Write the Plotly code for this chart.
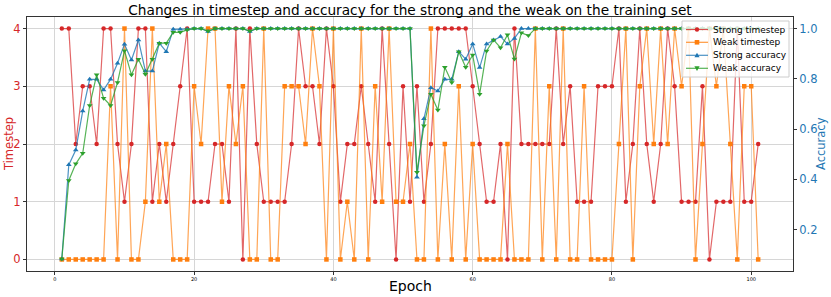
import plotly.graph_objects as go

epochs = list(range(1, 102))

strong_timestep = [4, 4, 2, 3, 3, 2, 4, 4, 2, 1,
                   2, 4, 4, 1, 2, 1, 2, 3, 4, 1,
                   1, 1, 2, 2, 1, 4, 0, 4, 2, 1,
                   1, 1, 1, 2, 4, 3, 3, 2, 4, 3,
                   1, 2, 2, 3, 2, 1, 4, 2, 0, 3,
                   1, 3, 1, 2, 4, 4, 4, 4, 4, 3,
                   2, 1, 1, 2, 0, 4, 2, 2, 2, 2,
                   2, 4, 2, 3, 1, 1, 1, 3, 3, 3,
                   4, 1, 2, 4, 2, 1, 2, 4, 3, 1,
                   1, 1, 3, 0, 1, 1, 1, 4, 1, 1,
                   2]

weak_timestep = [0, 0, 0, 0, 0, 0, 0, 3, 0, 4,
                 0, 0, 1, 4, 1, 2, 0, 0, 0, 3,
                 2, 4, 4, 1, 3, 2, 3, 0, 0, 4,
                 0, 0, 3, 3, 3, 2, 4, 3, 0, 4,
                 0, 1, 0, 4, 0, 3, 1, 4, 1, 1,
                 2, 0, 0, 4, 0, 2, 0, 3, 0, 2,
                 0, 0, 0, 0, 2, 0, 0, 0, 4, 0,
                 3, 0, 4, 0, 0, 3, 0, 0, 0, 0,
                 2, 4, 0, 3, 4, 2, 4, 2, 4, 3,
                 4, 0, 2, 4, 3, 4, 2, 0, 3, 3,
                 0]

strong_accuracy = [0.084, 0.458, 0.517, 0.672, 0.798, 0.798, 0.756, 0.798, 0.862, 0.938,
                   0.875, 0.955, 0.831, 0.831, 0.942, 0.908, 0.997, 0.997, 0.997, 1.0,
                   1.0, 0.988, 1.0, 1.0, 1.0, 1.0, 1.0, 0.988, 1.0, 1.0,
                   1.0, 1.0, 1.0, 1.0, 1.0, 1.0, 1.0, 1.0, 1.0, 1.0,
                   1.0, 1.0, 1.0, 1.0, 1.0, 1.0, 1.0, 1.0, 1.0, 1.0,
                   1.0, 0.409, 0.641, 0.765, 0.752, 0.798, 0.798, 0.908, 0.878, 0.939,
                   0.845, 0.939, 0.955, 0.968, 0.939, 0.961, 1.0, 1.0, 1.0, 1.0,
                   1.0, 1.0, 1.0, 1.0, 1.0, 1.0, 1.0, 1.0, 1.0, 1.0,
                   1.0, 1.0, 1.0, 1.0, 1.0, 1.0, 1.0, 1.0, 1.0, 1.0,
                   1.0, 1.0, 1.0, 1.0, 1.0, 1.0, 1.0, 1.0, 1.0, 1.0,
                   1.0]

weak_accuracy = [0.084, 0.396, 0.462, 0.504, 0.694, 0.816, 0.723, 0.694, 0.786, 0.912,
                 0.816, 0.878, 0.818, 0.878, 0.942, 0.942, 0.985, 0.985, 0.995, 1.0,
                 1.0, 0.99, 1.0, 1.0, 1.0, 1.0, 1.0, 0.99, 1.0, 1.0,
                 1.0, 1.0, 1.0, 1.0, 1.0, 1.0, 1.0, 1.0, 1.0, 1.0,
                 1.0, 1.0, 1.0, 1.0, 1.0, 1.0, 1.0, 1.0, 1.0, 1.0,
                 1.0, 0.429, 0.614, 0.739, 0.676, 0.846, 0.786, 0.908, 0.846, 0.895,
                 0.739, 0.911, 0.955, 0.924, 0.975, 0.879, 0.983, 0.972, 1.0, 1.0,
                 1.0, 1.0, 1.0, 1.0, 1.0, 1.0, 1.0, 1.0, 1.0, 1.0,
                 1.0, 1.0, 1.0, 1.0, 1.0, 1.0, 1.0, 1.0, 1.0, 1.0,
                 1.0, 1.0, 1.0, 1.0, 1.0, 1.0, 1.0, 1.0, 1.0, 1.0,
                 1.0]

series_names = ["Strong timestep", "Weak timestep", "Strong accuracy", "Weak accuracy"]
x_ticks = [0, 20, 40, 60, 80, 100]
y_ticks = [0, 1, 2, 3, 4]
acc_ticks = [0.2, 0.4, 0.6, 0.8, 1.0]
acc_tick_text = ["0.2", "0.4", "0.6", "0.8", "1.0"]

RED = "#d62728"
ORANGE = "#ff7f0e"
BLUE = "#1f77b4"
GREEN = "#2ca02c"
FONT = "DejaVu Sans"

# plot-area geometry in pixels
W, H = 831, 297
PL, PR, PT, PB = 27, 793, 17, 271


def rgba(hex_color, a):
    h = hex_color.lstrip("#")
    return "rgba(%d,%d,%d,%.2f)" % (int(h[0:2], 16), int(h[2:4], 16), int(h[4:6], 16), a)


def px(xp):
    return (xp - PL) / (PR - PL)


def py(yp):
    return (PB - yp) / (PB - PT)


fig = go.Figure()
fig.add_trace(go.Scatter(x=epochs, y=strong_timestep, name=series_names[0], mode="lines+markers",
                         line=dict(color=rgba(RED, 0.7), width=1.2),
                         marker=dict(symbol="circle", size=4.5, color=RED), yaxis="y"))
fig.add_trace(go.Scatter(x=epochs, y=weak_timestep, name=series_names[1], mode="lines+markers",
                         line=dict(color=rgba(ORANGE, 0.7), width=1.2),
                         marker=dict(symbol="square", size=4.5, color=ORANGE), yaxis="y"))
fig.add_trace(go.Scatter(x=epochs, y=strong_accuracy, name=series_names[2], mode="lines+markers",
                         line=dict(color=rgba(BLUE, 0.8), width=1.2),
                         marker=dict(symbol="triangle-up", size=5, color=BLUE), yaxis="y2"))
fig.add_trace(go.Scatter(x=epochs, y=weak_accuracy, name=series_names[3], mode="lines+markers",
                         line=dict(color=rgba(GREEN, 0.8), width=1.2),
                         marker=dict(symbol="triangle-down", size=5, color=GREEN), yaxis="y2"))

# compact matplotlib-style legend (box, line samples, glyphs, labels)
shapes = [dict(type="rect", xref="paper", yref="paper", x0=px(682), x1=px(789), y0=py(21), y1=py(77),
               fillcolor="rgba(255,255,255,0.8)", line=dict(color="#cccccc", width=1), layer="above")]
annotations = []
legend_colors = [RED, ORANGE, BLUE, GREEN]
row_y = [29.5, 42.3, 55.3, 68.3]
for i, (name, col) in enumerate(zip(series_names, legend_colors)):
    yy = row_y[i]
    shapes.append(dict(type="line", xref="paper", yref="paper", x0=px(686), x1=px(708), y0=py(yy), y1=py(yy),
                       line=dict(color=rgba(col, 0.8), width=1.2), layer="above"))
    cx = 697
    if i == 0:
        shapes.append(dict(type="circle", xref="paper", yref="paper", x0=px(cx - 2.2), x1=px(cx + 2.2),
                           y0=py(yy + 2.2), y1=py(yy - 2.2), fillcolor=col, line=dict(width=0), layer="above"))
    elif i == 1:
        shapes.append(dict(type="rect", xref="paper", yref="paper", x0=px(cx - 2.3), x1=px(cx + 2.3),
                           y0=py(yy + 2.3), y1=py(yy - 2.3), fillcolor=col, line=dict(width=0), layer="above"))
    elif i == 2:
        path = "M %f %f L %f %f L %f %f Z" % (px(cx - 2.6), py(yy + 2), px(cx + 2.6), py(yy + 2), px(cx), py(yy - 2.6))
        shapes.append(dict(type="path", xref="paper", yref="paper", path=path, fillcolor=col,
                           line=dict(width=0), layer="above"))
    else:
        path = "M %f %f L %f %f L %f %f Z" % (px(cx - 2.6), py(yy - 2), px(cx + 2.6), py(yy - 2), px(cx), py(yy + 2.6))
        shapes.append(dict(type="path", xref="paper", yref="paper", path=path, fillcolor=col,
                           line=dict(width=0), layer="above"))
    annotations.append(dict(text=name, xref="paper", yref="paper", x=px(711), y=py(yy), xanchor="left",
                            yanchor="middle", showarrow=False, font=dict(family=FONT, size=9, color="black")))

annotations += [
    dict(text="Epoch", xref="paper", yref="paper", x=0.5, y=-(286 - PB) / (PB - PT), xanchor="center",
         yanchor="middle", showarrow=False, font=dict(family=FONT, size=14, color="black")),
    dict(text="Timestep", xref="paper", yref="paper", x=px(9), y=0.5, xanchor="center",
         yanchor="middle", textangle=-90, showarrow=False, font=dict(family=FONT, size=11.5, color=RED)),
    dict(text="Accuracy", xref="paper", yref="paper", x=px(821), y=0.5, xanchor="center",
         yanchor="middle", textangle=-90, showarrow=False, font=dict(family=FONT, size=11.5, color=BLUE)),
]

fig.update_layout(
    width=W, height=H,
    margin=dict(l=PL, r=W - PR, t=PT, b=H - PB, autoexpand=False, pad=0),
    paper_bgcolor="white", plot_bgcolor="white",
    font=dict(family=FONT, color="black"),
    showlegend=False,
    title=dict(text="Changes in timestep and accuracy for the strong and the weak on the training set",
               x=410 / W, xanchor="center", y=1 - 10 / H, yanchor="middle",
               font=dict(family=FONT, size=13.7, color="black")),
    xaxis=dict(range=[-4, 106], tickvals=x_ticks, ticktext=[str(v) for v in x_ticks], automargin=False,
               tickfont=dict(size=5, color="black"), ticks="outside", ticklen=3, tickcolor="#333",
               showgrid=True, gridcolor="#d6d6d6", gridwidth=0.8, zeroline=False,
               showline=True, mirror=True, linecolor="#333", linewidth=1),
    yaxis=dict(range=[-0.2, 4.2], tickvals=y_ticks, ticktext=[str(v) for v in y_ticks], automargin=False,
               tickfont=dict(size=11.5, color=RED), ticks="outside", ticklen=3, tickcolor="#333",
               showgrid=True, gridcolor="#d6d6d6", gridwidth=0.8, zeroline=False,
               showline=True, mirror=True, linecolor="#333", linewidth=1),
    yaxis2=dict(range=[0.036, 1.046], tickvals=acc_ticks, ticktext=acc_tick_text, automargin=False,
                overlaying="y", side="right", anchor="x",
                tickfont=dict(size=11.5, color=BLUE), ticks="outside", ticklen=3, tickcolor="#333",
                showgrid=False, zeroline=False, showline=True, linecolor="#333", linewidth=1),
    shapes=shapes,
    annotations=annotations,
)

fig.write_html("out.html", config={"displayModeBar": False},
               post_script="document.body.style.margin='0';document.body.style.overflow='hidden';")
